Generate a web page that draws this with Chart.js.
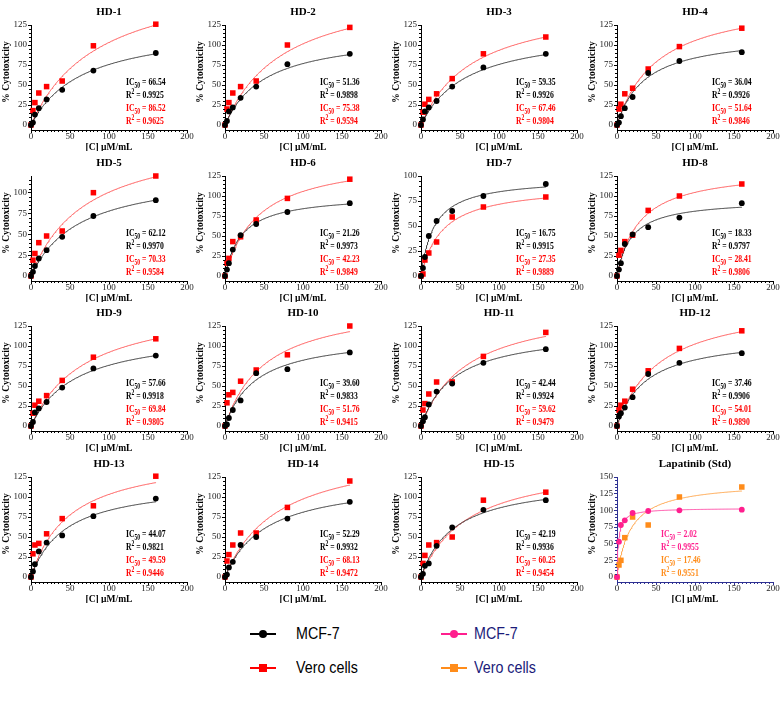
<!DOCTYPE html>
<html>
<head>
<meta charset="utf-8">
<script src="https://cdn.jsdelivr.net/npm/chart.js@4.4.1/dist/chart.umd.min.js"></script>
<style>
  body { margin: 0; background: #fff; }
  #page { position: relative; width: 780px; height: 707px; overflow: hidden; background: #fff; }
  .panel { position: absolute; width: 195px; height: 151px; }
  .leg { position: absolute; height: 20px; }
  .sym { position: absolute; top: 0; width: 26px; height: 20px; }
  .sym .ln { position: absolute; left: 0; right: 0; top: 9px; height: 1.5px; }
  .sym .mk { position: absolute; left: 9px; top: 6px; width: 8px; height: 8px; }
  .sym .mk.round { border-radius: 50%; }
  .leg .txt { position: absolute; top: 0; line-height: 20px; white-space: nowrap;
              font-family: "Liberation Sans", Arial, sans-serif; font-size: 17px;
              transform: scaleX(0.84); transform-origin: left center; }
</style>
</head>
<body>
<div id="page"></div>
<script>
const CONC = [0, 2.5, 5, 10, 20, 40, 80, 160];

const panelTitles = ["HD-1", "HD-2", "HD-3", "HD-4", "HD-5", "HD-6", "HD-7", "HD-8",
  "HD-9", "HD-10", "HD-11", "HD-12", "HD-13", "HD-14", "HD-15", "Lapatinib (Std)"];

const yMax = [125, 125, 125, 125, 120, 125, 100, 125, 125, 125, 125, 125, 125, 125, 125, 150];

// % cytotoxicity at each concentration, MCF-7 (black / pink for the standard)
const mcf7Values = [
  [0, 3, 13, 21, 32, 44, 68, 90],
  [0, 5, 17, 22, 34, 48, 76, 89],
  [0, 7, 17, 22, 30, 48, 72, 89],
  [0, 3, 11, 21, 35, 65, 80, 91],
  [0, 5, 12, 21, 31, 47, 72, 91],
  [0, 8, 16, 33, 51, 65, 80, 91],
  [0, 8, 19, 40, 55, 65, 80, 92],
  [0, 8, 16, 40, 52, 61, 73, 91],
  [0, 5, 17, 22, 30, 48, 72, 88],
  [0, 2, 10, 20, 32, 66, 71, 92],
  [0, 6, 11, 27, 43, 53, 79, 96],
  [0, 12, 16, 23, 36, 65, 79, 91],
  [0, 7, 16, 32, 43, 52, 76, 98],
  [0, 3, 12, 19, 40, 50, 73, 94],
  [0, 4, 14, 17, 39, 62, 84, 96],
  [0, 53, 78, 85, 96, 99, 100, 101]
];

// % cytotoxicity at each concentration, Vero cells (red / orange for the standard)
const veroValues = [
  [0, 18, 28, 40, 48, 55, 99, 126],
  [0, 20, 28, 40, 48, 55, 100, 122],
  [0, 16, 26, 32, 39, 58, 89, 110],
  [0, 20, 26, 39, 46, 70, 98, 121],
  [0, 19, 27, 40, 48, 54, 100, 120],
  [0, 16, 22, 43, 49, 70, 97, 121],
  [0, 2, 16, 23, 34, 59, 69, 79],
  [0, 26, 32, 43, 51, 82, 100, 115],
  [0, 16, 26, 31, 38, 57, 86, 109],
  [0, 29, 39, 42, 56, 70, 89, 125],
  [0, 20, 28, 40, 55, 55, 87, 117],
  [0, 20, 26, 31, 46, 69, 97, 119],
  [0, 29, 40, 42, 54, 73, 89, 126],
  [0, 20, 28, 40, 55, 55, 87, 120],
  [0, 17, 27, 40, 43, 50, 96, 106],
  [0, 18, 25, 59, 90, 78, 120, 135]
];

const mcf7IC50 = ["66.54", "51.36", "59.35", "36.04", "62.12", "21.26", "16.75", "18.33",
  "57.66", "39.60", "42.44", "37.46", "44.07", "52.29", "42.19", "2.02"];
const mcf7R2 = ["0.9925", "0.9898", "0.9926", "0.9926", "0.9970", "0.9973", "0.9915", "0.9797",
  "0.9918", "0.9833", "0.9924", "0.9906", "0.9821", "0.9932", "0.9936", "0.9955"];
const veroIC50 = ["86.52", "75.38", "67.46", "51.64", "70.33", "42.23", "27.35", "28.41",
  "69.84", "51.76", "59.62", "54.01", "49.59", "68.13", "60.25", "17.46"];
const veroR2 = ["0.9625", "0.9594", "0.9804", "0.9846", "0.9584", "0.9849", "0.9889", "0.9806",
  "0.9805", "0.9415", "0.9479", "0.9890", "0.9446", "0.9472", "0.9454", "0.9551"];

// height of each fitted curve at the last concentration
const mcf7FitEnd = [89, 88, 88, 93, 91, 90, 89, 86, 88, 92, 96, 92, 94, 93, 97, 102];
const veroFitEnd = [125, 121, 110, 121, 119, 119, 78, 114, 109, 118, 112, 118, 118, 115, 106, 129];

const SERIF = '"Liberation Serif", "Times New Roman", serif';

// one-site curve y = top*x/(IC50+x), pinned to the curve end read above
function fitCurve(ic50, yEnd) {
  const k = parseFloat(ic50);
  const top = yEnd * (k + 160) / 160;
  const pts = [];
  for (let x = 0; x <= 160; x += (x < 10 ? 0.25 : 1)) {
    pts.push({ x, y: top * x / (k + x) });
  }
  return pts;
}

// "IC50 = 66.54" / "R2 = 0.9925", drawn narrow like the original
function drawStat(ctx, x, y, head, script, isSub, value, color) {
  ctx.save();
  ctx.translate(x, y);
  ctx.scale(0.7, 1);
  ctx.fillStyle = color;
  ctx.font = `bold 11px ${SERIF}`;
  ctx.fillText(head, 0, 0);
  let w = ctx.measureText(head).width;
  ctx.font = `bold 8px ${SERIF}`;
  ctx.fillText(script, w, isSub ? 2.5 : -4.5);
  w += ctx.measureText(script).width;
  ctx.font = `bold 11px ${SERIF}`;
  ctx.fillText(" = " + value, w, 0);
  ctx.restore();
}

const panelText = {
  id: "panelText",
  afterDraw(chart, args, opts) {
    const { ctx, chartArea, scales } = chart;
    const i = opts.index;
    const std = i === 15;
    const y0 = scales.y.getPixelForValue(0);
    ctx.save();

    // minor ticks
    ctx.strokeStyle = opts.axisColor;
    ctx.lineWidth = 1;
    ctx.beginPath();
    for (let v = 5; v < 200; v += 5) {
      if (v % 50 === 0) continue;
      const px = Math.round(scales.x.getPixelForValue(v)) + 0.5;
      ctx.moveTo(px, chartArea.bottom);
      ctx.lineTo(px, chartArea.bottom + 2);
    }
    for (let v = 5; v < yMax[i]; v += 5) {
      if (v % 25 === 0) continue;
      const py = Math.round(scales.y.getPixelForValue(v)) + 0.5;
      ctx.moveTo(chartArea.left, py);
      ctx.lineTo(chartArea.left - 2, py);
    }
    ctx.stroke();

    // panel title
    ctx.fillStyle = "#000";
    ctx.textAlign = "center";
    ctx.textBaseline = "middle";
    ctx.font = `bold 11px ${SERIF}`;
    ctx.fillText(panelTitles[i], (chartArea.left + chartArea.right) / 2, 12);

    // axis titles
    ctx.font = `bold 9.5px ${SERIF}`;
    ctx.fillText("[C] \u00b5M/mL", (chartArea.left + chartArea.right) / 2, 148);
    ctx.save();
    ctx.translate(7, 72);
    ctx.rotate(-Math.PI / 2);
    ctx.fillText("% Cytotoxicity", 0, 0);
    ctx.restore();

    // IC50 / R2 block
    ctx.textAlign = "left";
    ctx.textBaseline = "alphabetic";
    const tx = std ? chartArea.left + 44 : chartArea.left + 95;
    const cA = std ? "#ff1f8e" : "#000";
    const cB = std ? "#ff8c1a" : "#ff0000";
    drawStat(ctx, tx, y0 - 40, "IC", "50", true, mcf7IC50[i], cA);
    drawStat(ctx, tx, y0 - 27, "R", "2", false, mcf7R2[i], cA);
    drawStat(ctx, tx, y0 - 14, "IC", "50", true, veroIC50[i], cB);
    drawStat(ctx, tx, y0 - 1, "R", "2", false, veroR2[i], cB);
    ctx.restore();
  }
};

const page = document.getElementById("page");
const colLeft = [0, 194, 390, 586];
const rowTop = [0, 151, 301, 452];

panelTitles.forEach((title, i) => {
  const std = i === 15;
  const axisColor = std ? "#2e3192" : "#000";
  const colA = std ? "#ff1f8e" : "#000";
  const lineA = std ? "#ff4da6" : "#3a3a3a";
  const colB = std ? "#ff8c1a" : "#ff0000";
  const lineB = std ? "#ffa64d" : "#ff5a5a";

  const div = document.createElement("div");
  div.className = "panel";
  div.style.left = colLeft[i % 4] + "px";
  div.style.top = rowTop[Math.floor(i / 4)] + "px";
  const canvas = document.createElement("canvas");
  canvas.width = 195;
  canvas.height = 151;
  div.appendChild(canvas);
  page.appendChild(div);

  const yTicks = [];
  for (let v = 0; v <= yMax[i]; v += 25) yTicks.push(v);

  new Chart(canvas, {
    type: "scatter",
    data: {
      datasets: [
        {
          data: CONC.map((x, j) => ({ x, y: mcf7Values[i][j] })),
          pointStyle: "circle", pointRadius: 2.9, backgroundColor: colA, borderColor: colA, borderWidth: 0, clip: false
        },
        {
          data: CONC.map((x, j) => ({ x, y: veroValues[i][j] })),
          pointStyle: "rect", pointRadius: 3.9, backgroundColor: colB, borderColor: colB, borderWidth: 0, clip: false
        },
        {
          data: fitCurve(mcf7IC50[i], mcf7FitEnd[i]),
          showLine: true, pointRadius: 0, borderColor: lineA, borderWidth: 1, tension: 0, clip: false
        },
        {
          data: fitCurve(veroIC50[i], veroFitEnd[i]),
          showLine: true, pointRadius: 0, borderColor: lineB, borderWidth: 1, tension: 0, clip: false
        }
      ]
    },
    options: {
      responsive: false,
      animation: false,
      devicePixelRatio: 1,
      layout: { padding: { top: 25, right: 8, left: 0, bottom: 0 } },
      plugins: {
        legend: { display: false },
        tooltip: { enabled: false },
        panelText: { index: i, axisColor }
      },
      scales: {
        x: {
          type: "linear", min: 0, max: 200,
          afterFit: (s) => { s.height = 21; },
          afterBuildTicks: (s) => { s.ticks = [0, 50, 100, 150, 200].map((v) => ({ value: v })); },
          border: { display: true, color: axisColor, width: 1 },
          grid: { display: true, drawOnChartArea: false, drawTicks: true, tickLength: 3, color: axisColor },
          ticks: { font: { family: SERIF, size: 9 }, color: "#222", padding: -2, maxRotation: 0, autoSkip: false }
        },
        y: {
          type: "linear", min: -0.05 * yMax[i], max: yMax[i],
          afterFit: (s) => { s.width = 31; },
          afterBuildTicks: (s) => { s.ticks = yTicks.map((v) => ({ value: v })); },
          border: { display: true, color: axisColor, width: 1 },
          grid: { display: true, drawOnChartArea: false, drawTicks: true, tickLength: 3, color: axisColor },
          ticks: { font: { family: SERIF, size: 9 }, color: "#222", padding: 1, autoSkip: false }
        }
      }
    },
    plugins: [panelText]
  });
});

// legend
const legendItems = [
  { left: 250, textLeft: 296, top: 624, mark: "round", color: "#000", text: "MCF-7", textColor: "#000" },
  { left: 250, textLeft: 296, top: 658, mark: "square", color: "#ff0000", text: "Vero cells", textColor: "#000" },
  { left: 441, textLeft: 474, top: 624, mark: "round", color: "#ff1f8e", text: "MCF-7", textColor: "#1b1b7a" },
  { left: 441, textLeft: 474, top: 658, mark: "square", color: "#ff8c1a", text: "Vero cells", textColor: "#1b1b7a" }
];
legendItems.forEach((it) => {
  const row = document.createElement("div");
  row.className = "leg";
  row.style.left = "0px";
  row.style.top = it.top + "px";
  row.innerHTML = `<span class="sym" style="left:${it.left}px"><i class="ln" style="background:${it.color}"></i>` +
    `<i class="mk ${it.mark === "round" ? "round" : ""}" style="background:${it.color}"></i></span>` +
    `<span class="txt" style="left:${it.textLeft}px;color:${it.textColor}">${it.text}</span>`;
  page.appendChild(row);
});
</script>
</body>
</html>
